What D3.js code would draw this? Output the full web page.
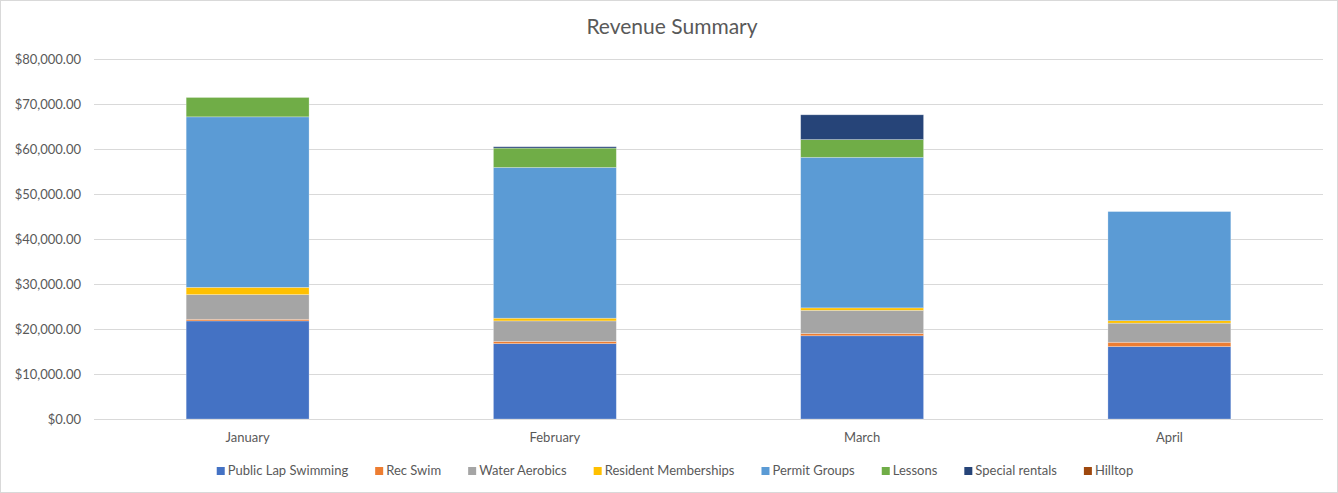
<!DOCTYPE html>
<html>
<head>
<meta charset="utf-8">
<script src="https://cdnjs.cloudflare.com/ajax/libs/d3/7.8.5/d3.min.js"></script>
<style>
  body { margin: 0; background: #fff; }
  svg { display: block; }
  text { font-family: Lato, "Open Sans", sans-serif; fill: #595959; }
</style>
</head>
<body>
<svg id="chart"></svg>
<script>
// data
var months = ["January", "February", "March", "April"];
var seriesNames = ["Public Lap Swimming", "Rec Swim", "Water Aerobics", "Resident Memberships",
                   "Permit Groups", "Lessons", "Special rentals", "Hilltop"];
var publicLap   = [21800, 16750, 18500, 16100];
var recSwim     = [350, 500, 500, 950];
var waterAero   = [5500, 4550, 5150, 4250];
var resident    = [1600, 600, 550, 550];
var permit      = [37900, 33500, 33450, 24250];
var lessons     = [4300, 4300, 3950, 0];
var specialRent = [0, 300, 5500, 0];
var hilltop     = [0, 0, 0, 0];
var yTicks = [0, 10000, 20000, 30000, 40000, 50000, 60000, 70000, 80000];
var colors = ["#4472C4", "#ED7D31", "#A5A5A5", "#FFC000", "#5B9BD5", "#70AD47", "#264478", "#9E480E"];

var allSeries = [publicLap, recSwim, waterAero, resident, permit, lessons, specialRent, hilltop];

var W = 1338, H = 493;
var margin = {top: 59, right: 15, bottom: 74, left: 94};
var width = W - margin.left - margin.right,
    height = H - margin.top - margin.bottom;

var svg = d3.select("#chart").attr("width", W).attr("height", H);

// chart border
svg.append("rect")
    .attr("x", 0.5).attr("y", 0.5)
    .attr("width", W - 1).attr("height", H - 1)
    .attr("fill", "#fff").attr("stroke", "#d9d9d9");

svg.append("text")
    .attr("x", 672).attr("y", 34)
    .attr("text-anchor", "middle")
    .style("font-size", "21px")
    .text("Revenue Summary");

var g = svg.append("g")
    .attr("transform", "translate(" + margin.left + "," + margin.top + ")");

var x = d3.scaleBand().domain(months).range([0, width]).padding(0);
var y = d3.scaleLinear().domain([0, 80000]).range([height, 0]);

// gridlines
g.selectAll("line.grid")
    .data(yTicks)
    .enter()
    .append("line")
    .attr("class", "grid")
    .attr("x1", 0).attr("x2", width)
    .attr("y1", function(d) { return Math.round(y(d)) + 0.5; })
    .attr("y2", function(d) { return Math.round(y(d)) + 0.5; })
    .style("stroke", "#d9d9d9");

var fmt = d3.format("$,.2f");
var yAxis = d3.axisLeft(y).tickValues(yTicks).tickFormat(fmt).tickSize(0).tickPadding(13);
var ya = g.append("g").call(yAxis);
ya.select(".domain").remove();
ya.selectAll("text").style("font-size", "13px").style("fill", "#595959").style("font-family", "Lato, sans-serif");

var xAxis = d3.axisBottom(x).tickSize(0).tickPadding(14);
var xa = g.append("g").attr("transform", "translate(0," + height + ")").call(xAxis);
xa.select(".domain").remove();
xa.selectAll("text").style("font-size", "13px").style("fill", "#595959").style("font-family", "Lato, sans-serif");

// stack
var table = months.map(function(m, i) {
    var row = {month: m};
    seriesNames.forEach(function(s, j) { row[s] = allSeries[j][i]; });
    return row;
});
var stacked = d3.stack().keys(seriesNames)(table);

var barW = x.bandwidth() * 0.4;

var layers = g.selectAll("g.layer")
    .data(stacked)
    .enter()
    .append("g")
    .attr("class", "layer")
    .style("fill", function(d, i) { return colors[i]; });

layers.selectAll("rect")
    .data(function(d) { return d; })
    .enter()
    .append("rect")
    .filter(function(d) { return d[1] - d[0] > 0; })
    .attr("x", function(d) { return x(d.data.month) + (x.bandwidth() - barW) / 2; })
    .attr("width", barW)
    .attr("y", function(d) { return y(d[1]); })
    .attr("height", function(d) { return y(d[0]) - y(d[1]); })
    .style("stroke", "#fff")
    .style("stroke-opacity", 0.35)
    .style("stroke-width", 0.75);

// legend
var legend = svg.append("g").attr("transform", "translate(0,475)");
var items = legend.selectAll("g.item")
    .data(seriesNames)
    .enter()
    .append("g")
    .attr("class", "item");

items.append("rect")
    .attr("width", 8).attr("height", 8)
    .attr("y", -8)
    .style("fill", function(d, i) { return colors[i]; });

items.append("text")
    .attr("x", 11)
    .attr("y", 0)
    .style("font-size", "13px")
    .text(function(d) { return d; });

var gap = 27, pos = 0, offsets = [];
items.each(function() {
    offsets.push(pos);
    pos += 11 + d3.select(this).select("text").node().getComputedTextLength() + gap;
});
var total = pos - gap;
var start = 675 - total / 2;
items.attr("transform", function(d, i) { return "translate(" + (start + offsets[i]) + ",0)"; });
</script>
</body>
</html>
